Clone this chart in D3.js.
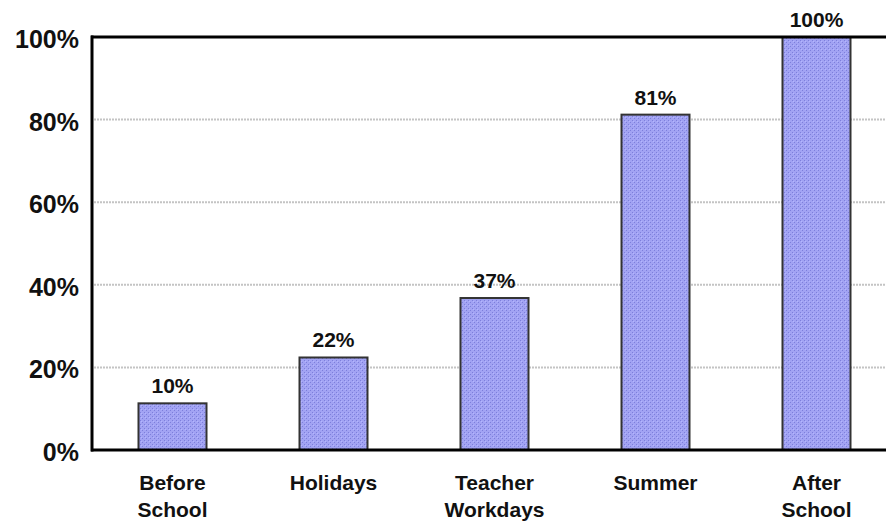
<!DOCTYPE html>
<html>
<head>
<meta charset="utf-8">
<script src="https://cdn.jsdelivr.net/npm/d3@7"></script>
<style>
  html, body { margin: 0; padding: 0; background: #fff; }
  svg { display: block; }
  text { font-family: "Liberation Sans", Arial, Helvetica, sans-serif; font-weight: bold; fill: #111; }
</style>
</head>
<body>
<svg id="chart" width="886" height="523"></svg>
<script>
const categories = [["Before", "School"], ["Holidays"], ["Teacher", "Workdays"], ["Summer"], ["After", "School"]];
const values = [11.3, 22.4, 36.8, 81.2, 100];
const valueLabels = ["10%", "22%", "37%", "81%", "100%"];
const yTicks = [0, 20, 40, 60, 80, 100];

const plotLeft = 92, plotRight = 886, plotTop = 37, plotBottom = 450;
const svg = d3.select("#chart");

const defs = svg.append("defs");
const pat = defs.append("pattern").attr("id", "dots").attr("patternUnits", "userSpaceOnUse")
  .attr("width", 4).attr("height", 4);
pat.append("rect").attr("width", 4).attr("height", 4).attr("fill", "#a2a3f3");
pat.append("rect").attr("x", 0).attr("y", 0).attr("width", 1).attr("height", 1).attr("fill", "#7d7fdc");
pat.append("rect").attr("x", 2).attr("y", 2).attr("width", 1).attr("height", 1).attr("fill", "#7d7fdc");
pat.append("rect").attr("x", 1).attr("y", 1).attr("width", 1).attr("height", 1).attr("fill", "#b4b6ff");

const x = d3.scalePoint().domain(d3.range(categories.length)).range([plotLeft, plotLeft + 161 * 5]).padding(0.5);
const y = d3.scaleLinear().domain([0, 100]).range([plotBottom, plotTop]);
const barW = 68;

// gridlines
svg.append("g").selectAll("line").data(yTicks.filter(t => t > 0 && t < 100)).join("line")
  .attr("x1", plotLeft + 2).attr("x2", plotRight)
  .attr("y1", d => y(d)).attr("y2", d => y(d))
  .attr("stroke", "#c4c4c4").attr("stroke-width", 2).attr("stroke-dasharray", "2,1");

// bars
svg.append("g").selectAll("rect").data(values).join("rect")
  .attr("x", (d, i) => x(i) - barW / 2)
  .attr("y", d => y(d))
  .attr("width", barW)
  .attr("height", d => plotBottom - y(d))
  .attr("fill", "url(#dots)")
  .attr("stroke", "#333").attr("stroke-width", 2);

// value labels
svg.append("g").selectAll("text").data(values).join("text")
  .attr("x", (d, i) => x(i))
  .attr("y", d => y(d) - 10)
  .attr("text-anchor", "middle")
  .attr("font-size", 21)
  .text((d, i) => valueLabels[i]);

// top line (100%) and axes
svg.append("line").attr("x1", plotLeft - 1).attr("x2", plotRight).attr("y1", y(100)).attr("y2", y(100))
  .attr("stroke", "#000").attr("stroke-width", 3);
svg.append("line").attr("x1", plotLeft).attr("x2", plotLeft).attr("y1", y(100) - 1.5).attr("y2", plotBottom + 1.5)
  .attr("stroke", "#000").attr("stroke-width", 3);
svg.append("line").attr("x1", plotLeft - 1).attr("x2", plotRight).attr("y1", plotBottom).attr("y2", plotBottom)
  .attr("stroke", "#000").attr("stroke-width", 3);

// y tick labels
svg.append("g").selectAll("text").data(yTicks).join("text")
  .attr("x", 79)
  .attr("y", d => y(d) + 11)
  .attr("text-anchor", "end")
  .attr("font-size", 25)
  .text(d => d + "%");

// category labels
const cat = svg.append("g").selectAll("text").data(categories).join("text")
  .attr("text-anchor", "middle")
  .attr("font-size", 21);
cat.each(function(lines, i) {
  d3.select(this).selectAll("tspan").data(lines).join("tspan")
    .attr("x", x(i))
    .attr("y", (l, j) => 490 + j * 27)
    .text(l => l);
});
</script>
</body>
</html>
